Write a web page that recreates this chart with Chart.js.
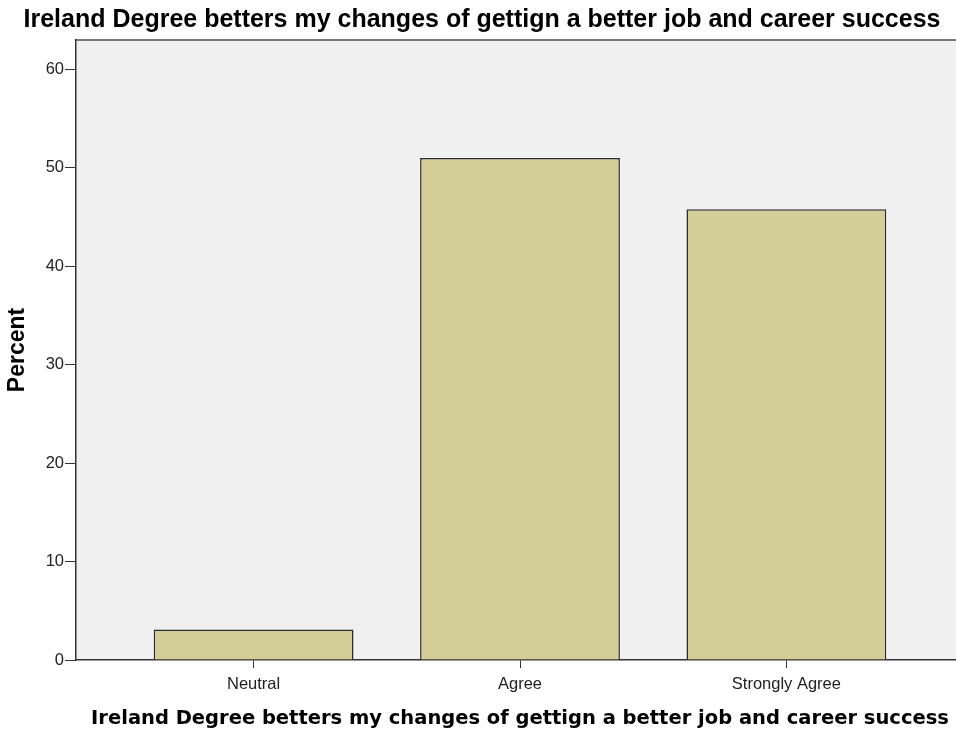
<!DOCTYPE html>
<html>
<head>
<meta charset="utf-8">
<script src="https://cdn.jsdelivr.net/npm/chart.js@4/dist/chart.umd.min.js"></script>
<style>
  html, body { margin: 0; padding: 0; background: #fff; overflow: hidden; }
  #wrap { width: 964px; height: 733px; }
</style>
</head>
<body>
<div id="wrap"><canvas id="chartGrado" width="964" height="733"></canvas></div>
<script>
// Datos del gráfico
var categorias = ['Neutral', 'Agree', 'Strongly Agree'];
var porcentajes = [3.1, 51.0, 45.8];
var titulo = 'Ireland Degree betters my changes of gettign a better job and career success';

// Fondo gris del área del gráfico y línea superior
var fondoArea = {
    id: 'fondoArea',
    beforeDraw: function (chart) {
        var a = chart.chartArea;
        var ctx = chart.ctx;
        ctx.save();
        ctx.fillStyle = '#f0f0f0';
        ctx.fillRect(a.left, a.top, a.right - a.left, a.bottom - a.top);
        ctx.strokeStyle = '#777';
        ctx.lineWidth = 2;
        ctx.beginPath();
        ctx.moveTo(a.left, a.top);
        ctx.lineTo(a.right, a.top);
        ctx.stroke();
        ctx.restore();
    }
};

var ctxGrado = document.getElementById('chartGrado').getContext('2d');
var chartGrado = new Chart(ctxGrado, {
    type: 'bar',
    data: {
        datasets: [{
            label: 'Percent',
            data: categorias.map(function (c, i) { return { x: i, y: porcentajes[i] }; }),
            backgroundColor: '#d3ce97',
            borderColor: '#2a2a2a',
            borderWidth: 1.5,
            categoryPercentage: 1,
            barPercentage: 0.75
        }]
    },
    options: {
        responsive: false,
        animation: false,
        layout: { padding: 0 },
        plugins: {
            legend: { display: false },
            tooltip: { enabled: false },
            title: {
                display: true,
                text: titulo,
                color: '#000',
                font: { family: "'Liberation Sans', Arial, sans-serif", size: 25, weight: 'bold' },
                padding: { top: 5, bottom: 5 }
            }
        },
        scales: {
            x: {
                type: 'linear',
                offset: false,
                min: -2 / 3,
                max: 8 / 3,
                afterBuildTicks: function (scale) {
                    scale.ticks = categorias.map(function (c, i) { return { value: i }; });
                },
                afterFit: function (scale) { scale.height = 73; },
                grid: { display: true, offset: false, drawOnChartArea: false, color: '#333', tickLength: 8 },
                border: { display: true, color: '#333', width: 1.5 },
                ticks: {
                    autoSkip: false,
                    maxRotation: 0,
                    padding: 7,
                    color: '#222',
                    font: { family: "'Liberation Sans', Arial, sans-serif", size: 16.5 },
                    callback: function (v) { return categorias[v]; }
                },
                title: {
                    display: true,
                    text: titulo,
                    color: '#000',
                    font: { family: "'DejaVu Sans', sans-serif", size: 19.5, weight: 'bold' },
                    padding: { top: 0, bottom: 2 }
                }
            },
            y: {
                min: 0,
                max: 63,
                afterFit: function (scale) { scale.width = 76; },
                grid: { display: true, drawOnChartArea: false, color: '#333', tickLength: 11 },
                border: { display: true, color: '#333', width: 1.5 },
                ticks: {
                    stepSize: 10,
                    includeBounds: false,
                    padding: 1,
                    color: '#222',
                    font: { family: "'Liberation Sans', Arial, sans-serif", size: 16.5 }
                },
                title: {
                    display: true,
                    text: 'Percent',
                    color: '#000',
                    font: { family: "'Liberation Sans', Arial, sans-serif", size: 23, weight: 'bold' },
                    padding: { top: 4, bottom: 0 }
                }
            }
        }
    },
    plugins: [fondoArea]
});
</script>
</body>
</html>
